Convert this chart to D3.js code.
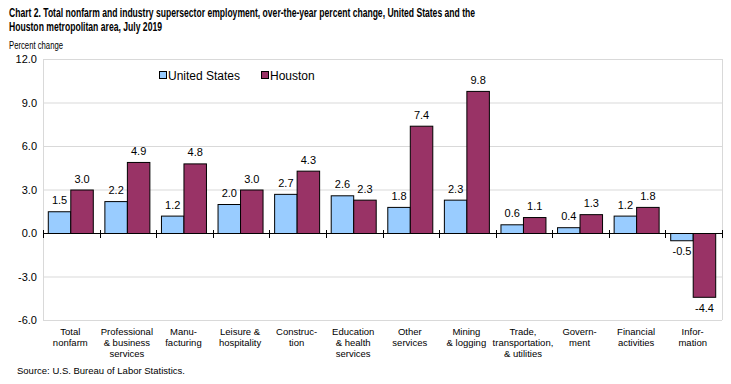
<!DOCTYPE html>
<html><head><meta charset="utf-8">
<script src="https://cdn.jsdelivr.net/npm/d3@7"></script>
<style>body{margin:0;background:#fff}svg{display:block;font-family:"Liberation Sans",Arial,sans-serif}</style>
</head><body><svg id="c" width="731" height="384"></svg>
<script>
const categories = [
  ["Total","nonfarm"],["Professional","& business","services"],["Manu-","facturing"],
  ["Leisure &","hospitality"],["Construc-","tion"],["Education","& health","services"],
  ["Other","services"],["Mining","& logging"],["Trade,","transportation,","& utilities"],
  ["Govern-","ment"],["Financial","activities"],["Infor-","mation"]];
const usValues = [1.5,2.2,1.2,2.0,2.7,2.6,1.8,2.3,0.6,0.4,1.2,-0.5];
const houstonValues = [3.0,4.9,4.8,3.0,4.3,2.3,7.4,9.8,1.1,1.3,1.8,-4.4];
const yTicks = [-6,-3,0,3,6,9,12];
const seriesNames = ["United States","Houston"];
const colors = ["#99ccff","#993366"];
const fmt = d => d.toFixed(1);

const svg = d3.select("#c");
const L=43, R=722, T=59, B=320;
const y = d3.scaleLinear().domain([-6,12]).range([B,T]);
const x = d3.scaleBand().domain(d3.range(categories.length)).range([L,R]).paddingInner(0).paddingOuter(0);
const x1 = d3.scaleBand().domain([0,1]).range([0,45]);

// title
svg.append("text").attr("x",9).attr("y",17).attr("font-size",12.5).attr("font-weight","bold")
  .attr("textLength",466).attr("lengthAdjust","spacingAndGlyphs")
  .text("Chart 2. Total nonfarm and industry supersector employment, over-the-year percent change, United States and the");
svg.append("text").attr("x",9).attr("y",31).attr("font-size",12.5).attr("font-weight","bold")
  .attr("textLength",153).attr("lengthAdjust","spacingAndGlyphs")
  .text("Houston metropolitan area, July 2019");
svg.append("text").attr("x",9).attr("y",49).attr("font-size",11.5)
  .attr("textLength",54).attr("lengthAdjust","spacingAndGlyphs").text("Percent change");

// grid
svg.append("g").selectAll("line").data(yTicks.filter(d=>d!==0)).join("line")
  .attr("x1",L).attr("x2",R).attr("y1",d=>y(d)+0.5).attr("y2",d=>y(d)+0.5)
  .attr("stroke","#d9d9d9").attr("stroke-width",1);
svg.append("line").attr("x1",R+0.5).attr("x2",R+0.5).attr("y1",T).attr("y2",B).attr("stroke","#d9d9d9");
svg.append("line").attr("x1",L+0.5).attr("x2",L+0.5).attr("y1",T).attr("y2",B+0.5).attr("stroke","#d9d9d9");

// y axis labels
const yAxis = d3.axisLeft(y).tickValues(yTicks).tickFormat(fmt).tickSize(0).tickPadding(6);
const ga = svg.append("g").attr("transform",`translate(${L},0)`).call(yAxis);
ga.select(".domain").remove();
ga.selectAll("text").attr("font-size",11).attr("font-family","Liberation Sans, Arial, sans-serif").attr("fill","#000");

// bars
const data = categories.map((c,i)=>({i, vals:[usValues[i],houstonValues[i]]}));
const g = svg.append("g");
data.forEach(d=>{
  const x0 = x(d.i) + (x.bandwidth()-45)/2 - 1;
  d.vals.forEach((v,s)=>{
    g.append("rect").attr("x",x0+x1(s)+0.5).attr("width",x1.bandwidth())
      .attr("y",Math.min(y(v),y(0))+0.5).attr("height",Math.abs(y(v)-y(0)))
      .attr("fill",colors[s]).attr("stroke","#000").attr("stroke-width",1);
    g.append("text").attr("x",x0+x1(s)+x1.bandwidth()/2+0.5)
      .attr("y", v>=0 ? y(v)-7 : y(v)+15).attr("text-anchor","middle").attr("font-size",11)
      .text(fmt(v));
  });
});

// zero line with ticks
svg.append("line").attr("x1",L).attr("x2",R).attr("y1",y(0)+0.5).attr("y2",y(0)+0.5).attr("stroke","#000");
svg.append("g").selectAll("line").data(d3.range(categories.length+1)).join("line")
  .attr("x1",d=>Math.round(L+d*x.step())+0.5).attr("x2",d=>Math.round(L+d*x.step())+0.5)
  .attr("y1",y(0)-3).attr("y2",y(0)+5).attr("stroke","#000");

// x labels
const gl = svg.append("g");
categories.forEach((c,i)=>{
  const t = gl.append("text").attr("x",x(i)+x.bandwidth()/2-1).attr("y",335).attr("text-anchor","middle").attr("font-size",9.5);
  c.forEach((ln,k)=>t.append("tspan").attr("x",x(i)+x.bandwidth()/2-1).attr("dy",k?10.8:0).text(ln));
});

// legend
const leg = [[159,168],[261,270]];
seriesNames.forEach((n,s)=>{
  svg.append("rect").attr("x",leg[s][0]+0.5).attr("y",71.5).attr("width",7).attr("height",7)
    .attr("fill",colors[s]).attr("stroke","#000");
  svg.append("text").attr("x",leg[s][1]).attr("y",80).attr("font-size",12).text(n);
});

svg.append("text").attr("x",17).attr("y",374).attr("font-size",9.5).text("Source: U.S. Bureau of Labor Statistics.");
</script></body></html>
